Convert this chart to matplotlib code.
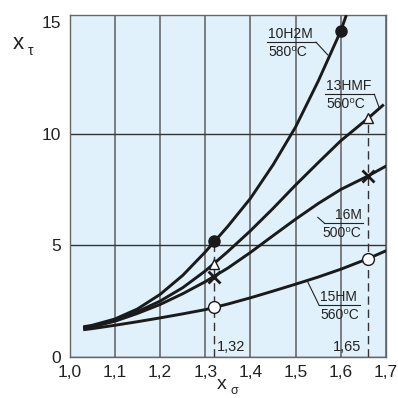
import matplotlib
matplotlib.use("Agg")
import matplotlib.pyplot as plt

# curves (x_sigma -> x_tau)
x_10h2m = [1.03, 1.05, 1.1, 1.15, 1.2, 1.25, 1.3, 1.35, 1.4, 1.45, 1.5, 1.55, 1.6, 1.612]
y_10h2m = [1.35, 1.42, 1.7, 2.15, 2.8, 3.65, 4.7, 5.85, 7.1, 8.6, 10.3, 12.35, 14.6, 15.3]

x_13hmf = [1.03, 1.05, 1.1, 1.15, 1.2, 1.25, 1.3, 1.35, 1.4, 1.45, 1.5, 1.55, 1.6, 1.66, 1.695]
y_13hmf = [1.32, 1.38, 1.65, 2.03, 2.5, 3.1, 3.85, 4.72, 5.65, 6.65, 7.7, 8.7, 9.68, 10.68, 11.3]

x_16m = [1.03, 1.05, 1.1, 1.15, 1.2, 1.25, 1.3, 1.35, 1.4, 1.45, 1.5, 1.55, 1.6, 1.66, 1.705]
y_16m = [1.28, 1.35, 1.6, 1.95, 2.35, 2.83, 3.37, 3.98, 4.68, 5.43, 6.17, 6.87, 7.5, 8.1, 8.6]

x_15hm = [1.03, 1.05, 1.1, 1.15, 1.2, 1.25, 1.3, 1.35, 1.4, 1.45, 1.5, 1.55, 1.6, 1.66, 1.705]
y_15hm = [1.22, 1.27, 1.42, 1.58, 1.75, 1.93, 2.12, 2.37, 2.65, 2.95, 3.26, 3.58, 3.93, 4.4, 4.8]

# marked points
dot_x, dot_y = [1.32, 1.6], [5.2, 14.6]
tri_x, tri_y = [1.32, 1.66], [4.18, 10.68]
cross_x, cross_y = [1.32, 1.66], [3.6, 8.1]
ring_x, ring_y = [1.32, 1.66], [2.22, 4.4]

xticks = [1.0, 1.1, 1.2, 1.3, 1.4, 1.5, 1.6, 1.7]
xtick_labels = ["1,0", "1,1", "1,2", "1,3", "1,4", "1,5", "1,6", "1,7"]
yticks = [0, 5, 10, 15]

plt.rcParams["font.family"] = ["Liberation Sans", "DejaVu Sans"]
ink = "#222222"

fig = plt.figure(figsize=(3.98, 3.98), dpi=100)
ax = fig.add_axes([0.175, 0.103, 0.795, 0.859])
ax.set_facecolor("#e0f1fb")

ax.set_xlim(1.0, 1.7)
ax.set_ylim(0, 15.3)
ax.set_xticks(xticks)
ax.set_xticklabels(xtick_labels)
ax.set_yticks(yticks)
ax.tick_params(length=0, labelsize=12.5, pad=6, colors=ink)
ax.grid(True, axis="x", color="#6a6a6a", linewidth=1.2)
ax.grid(True, axis="y", color="#333333", linewidth=1.0)
ax.get_ygridlines()[-1].set_visible(False)
ax.set_axisbelow(True)
for s in ax.spines.values():
    s.set_color("#666666")
    s.set_linewidth(1.0)

# dashed guides
ax.plot([1.32, 1.32], [0, dot_y[0]], color="#333333", lw=1, dashes=(6, 3.5), zorder=2)
ax.plot([1.66, 1.66], [0, tri_y[1]], color="#333333", lw=1, dashes=(6, 3.5), zorder=2)
ax.text(1.325, 0.45, "1,32", fontsize=10.5, va="center", ha="left", color=ink)
ax.text(1.646, 0.45, "1,65", fontsize=10.5, va="center", ha="right", color=ink)

for xs, ys in [(x_10h2m, y_10h2m), (x_13hmf, y_13hmf), (x_16m, y_16m), (x_15hm, y_15hm)]:
    ax.plot(xs, ys, color="#1a1a1a", lw=2.1, solid_joinstyle="round", solid_capstyle="butt", zorder=3)

ax.plot(dot_x, dot_y, "o", color="#1a1a1a", ms=8, zorder=4)
ax.plot(tri_x, tri_y, "^", mfc="white", mec="#1a1a1a", mew=1, ms=7, zorder=4)
ax.plot(cross_x, cross_y, "x", color="#1a1a1a", mew=2, ms=8, zorder=4)
ax.plot(ring_x, ring_y, "o", mfc="white", mec="#1a1a1a", mew=1, ms=8.5, zorder=4)

# curve labels: top, bottom, underline x0, x1, y, leader start, leader end, text anchor
labels = [
    ("10H2M", "580⁰C", 1.437, 1.545, 14.09, (1.545, 14.09), (1.571, 13.52), "left"),
    ("13HMF", "560⁰C", 1.566, 1.674, 11.76, (1.674, 11.76), (1.684, 11.2), "left"),
    ("16M", "500⁰C", 1.563, 1.648, 6.0, (1.563, 6.0), (1.549, 6.25), "right"),
    ("15HM", "560⁰C", 1.552, 1.642, 2.31, (1.552, 2.31), (1.527, 3.35), "left"),
]
for top, bot, x0, x1, yl, p0, p1, anchor in labels:
    ax.plot([x0, x1], [yl, yl], color=ink, lw=0.8, zorder=5)
    ax.plot([p0[0], p1[0]], [p0[1], p1[1]], color=ink, lw=0.8, zorder=5)
    xt = x0 + 0.002 if anchor == "left" else x1 - 0.002
    ax.text(xt, yl + 0.06, top, fontsize=10, ha=anchor, va="bottom", color=ink, zorder=5)
    ax.text(xt, yl - 0.12, bot, fontsize=10, ha=anchor, va="top", color=ink, zorder=5)

# axis titles
fig.text(0.032, 0.878, "x", fontsize=16, color=ink)
fig.text(0.071, 0.862, "τ", fontsize=10, color=ink)
fig.text(0.545, 0.022, "x", fontsize=14, color=ink)
fig.text(0.578, 0.01, "σ", fontsize=9, color=ink)

fig.savefig("out.png", dpi=100)
